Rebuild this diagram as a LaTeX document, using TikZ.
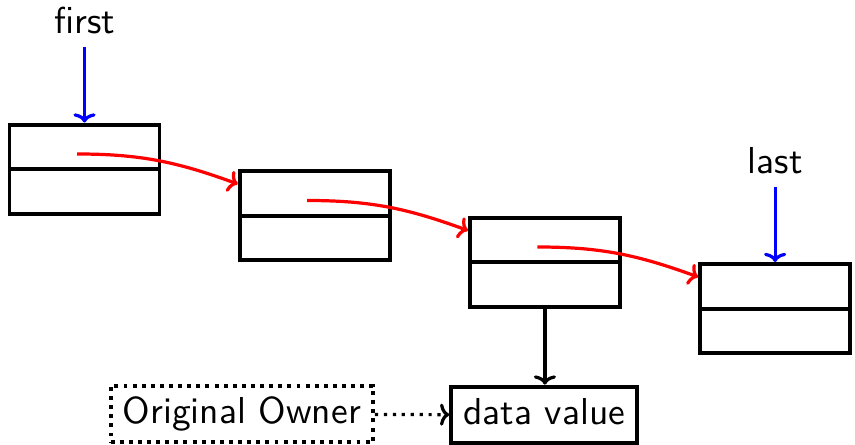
\documentclass[tikz,border=0pt]{standalone}
\usetikzlibrary{calc,arrows.meta}
\begin{document}
\def\u{0.28pt}
\begin{tikzpicture}[x=\u, y=-\u, font=\sffamily\fontsize{10.5}{12.6}\selectfont,
  >={To[width=6.2pt, length=2.6pt, line width=0.9pt]},
  cell/.style={draw, line width=1.1pt, minimum width=150*\u, minimum height=44.5*\u, inner sep=0pt},
  label/.style={inner sep=3.33pt},
  pointer/.style={->, line width=0.9pt},
  link/.style={->, red, line width=0.9pt},
  valbox/.style={draw, line width=1.1pt, inner sep=3.4pt, text height=7.2pt, text depth=1.9pt},
  ownerbox/.style={draw, line width=1.1pt, inner sep=3.4pt, dash pattern=on 1.1pt off 1.45pt, text height=7.2pt, text depth=1.9pt}]
  \useasboundingbox (0,0) rectangle (855,445);

  % list cells: upper and lower half of each element
  \foreach \i/\cx/\cy in {1/84.5/146.8, 2/314.7/193.3, 3/544.9/239.8, 4/775.1/286.3} {
    \node[cell] (n\i t) at (\cx,\cy) {};
    \node[cell] (n\i b) at (\cx,\cy+44.5) {};
  }

  % head and tail pointers
  \node[label] (first) at (84.5,20.8) {first};
  \node[label] (last) at (775.1,160.8) {last};
  \draw[pointer, blue] (first) -- (n1t);
  \draw[pointer, blue] (last) -- (n4t);

  % next links
  \draw[link] ($(n1t.center)+(-7.5,7.2)$) to[out=0, in=160] ($(n2t.west)+(0,-9.3)$);
  \draw[link] ($(n2t.center)+(-7.5,7.2)$) to[out=0, in=160] ($(n3t.west)+(0,-9.3)$);
  \draw[link] ($(n3t.center)+(-7.5,7.2)$) to[out=0, in=160] ($(n4t.west)+(0,-9.3)$);

  % owned value
  \node[valbox] (data) at (544.3,415) {data value};
  \node[ownerbox] (owner) at (241.8,414) {Original Owner};
  \draw[pointer, black] (n3b.south) -- (n3b.south |- data.north);
  \draw[->, line width=0.9pt, dash pattern=on 0.9pt off 1.6pt] (owner) -- (data);
\end{tikzpicture}
\end{document}
